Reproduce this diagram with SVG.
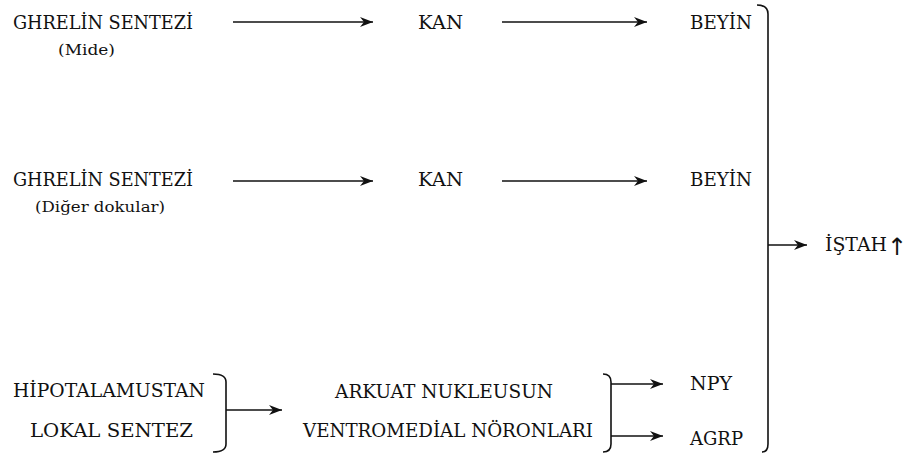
<svg xmlns="http://www.w3.org/2000/svg" width="907" height="453" viewBox="0 0 907 453">
<style>
.c{fill:none;stroke:#111;stroke-width:1.6;}
</style>
<defs>
<marker id="ah" markerUnits="userSpaceOnUse" markerWidth="16" markerHeight="12" refX="13" refY="6" orient="auto">
<path d="M0,1 L13,6 L0,11 L4,6 Z" fill="#111"/>
</marker>
</defs>
<rect width="907" height="453" fill="#fff"/>
<g font-family="DejaVu Serif, serif" font-size="19" fill="#111">
<g id="ghrelin-mide">
<text x="13" y="29" textLength="180" lengthAdjust="spacingAndGlyphs">GHRELİN SENTEZİ</text>
<text x="58" y="55" font-size="15" textLength="57" lengthAdjust="spacingAndGlyphs">(Mide)</text>
</g>
<g id="kan1"><text x="418" y="29" textLength="45" lengthAdjust="spacingAndGlyphs">KAN</text></g>
<g id="beyin1"><text x="690" y="29" textLength="62" lengthAdjust="spacingAndGlyphs">BEYİN</text></g>
<g id="ghrelin-diger">
<text x="13" y="186" textLength="180" lengthAdjust="spacingAndGlyphs">GHRELİN SENTEZİ</text>
<text x="35" y="212" font-size="15" textLength="130" lengthAdjust="spacingAndGlyphs">(Diğer dokular)</text>
</g>
<g id="kan2"><text x="418" y="186" textLength="45" lengthAdjust="spacingAndGlyphs">KAN</text></g>
<g id="beyin2"><text x="690" y="186" textLength="62" lengthAdjust="spacingAndGlyphs">BEYİN</text></g>
<g id="istah">
<text x="825" y="251" textLength="62" lengthAdjust="spacingAndGlyphs">İŞTAH</text>
<text x="887" y="255" font-size="24" font-family="DejaVu Sans, sans-serif">↑</text>
</g>
<g id="hipotalamus">
<text x="13" y="397" textLength="192" lengthAdjust="spacingAndGlyphs">HİPOTALAMUSTAN</text>
<text x="30" y="437" textLength="163" lengthAdjust="spacingAndGlyphs">LOKAL SENTEZ</text>
</g>
<g id="arkuat">
<text x="335" y="398" textLength="218" lengthAdjust="spacingAndGlyphs">ARKUAT NUKLEUSUN</text>
<text x="303" y="437" textLength="290" lengthAdjust="spacingAndGlyphs">VENTROMEDİAL NÖRONLARI</text>
</g>
<g id="npy"><text x="690" y="390" textLength="42" lengthAdjust="spacingAndGlyphs">NPY</text></g>
<g id="agrp"><text x="690" y="445" textLength="53" lengthAdjust="spacingAndGlyphs">AGRP</text></g>
</g>
<g id="connectors">
<line class="c" x1="233" y1="22" x2="373" y2="22" marker-end="url(#ah)"/>
<line class="c" x1="502" y1="22" x2="647" y2="22" marker-end="url(#ah)"/>
<line class="c" x1="233" y1="181" x2="373" y2="181" marker-end="url(#ah)"/>
<line class="c" x1="502" y1="181" x2="647" y2="181" marker-end="url(#ah)"/>
<path class="c" d="M757,5 Q768,5 768,14 L768,444 Q768,452 762,452"/>
<line class="c" x1="768" y1="245" x2="807" y2="245" marker-end="url(#ah)"/>
<path class="c" d="M213,374 Q226,374 226,382 L226,444 Q226,452 213,452"/>
<line class="c" x1="226" y1="410" x2="282" y2="410" marker-end="url(#ah)"/>
<path class="c" d="M603,374 Q611,374 611,382 L611,444 Q611,452 603,452"/>
<line class="c" x1="611" y1="384" x2="663" y2="384" marker-end="url(#ah)"/>
<line class="c" x1="611" y1="436" x2="663" y2="436" marker-end="url(#ah)"/>
</g>
</svg>
